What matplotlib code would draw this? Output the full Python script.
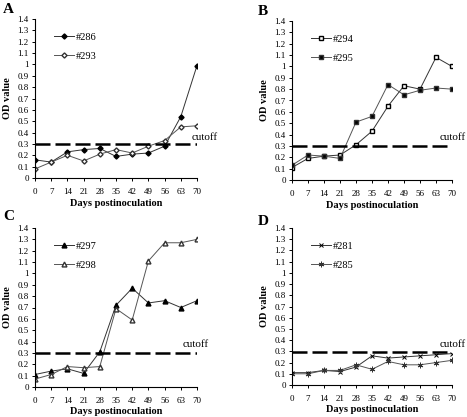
import matplotlib
matplotlib.use("Agg")
from matplotlib import pyplot as plt
import numpy as np

plt.rcParams['font.family'] = ['Liberation Serif', 'DejaVu Serif']

days = [0, 7, 14, 21, 28, 35, 42, 49, 56, 63, 70]
y_ticks = [0, 0.1, 0.2, 0.3, 0.4, 0.5, 0.6, 0.7, 0.8, 0.9, 1, 1.1, 1.2, 1.3, 1.4]
y_labels = ["0", "0.1", "0.2", "0.3", "0.4", "0.5", "0.6", "0.7", "0.8", "0.9",
            "1", "1.1", "1.2", "1.3", "1.4"]
cutoff = 0.295

# panel A
a286 = [0.16, 0.14, 0.23, 0.25, 0.26, 0.19, 0.21, 0.22, 0.28, 0.54, 0.99]
a293 = [0.08, 0.14, 0.20, 0.15, 0.21, 0.25, 0.22, 0.28, 0.33, 0.45, 0.46]
# panel B
b294 = [0.11, 0.19, 0.21, 0.22, 0.31, 0.43, 0.65, 0.83, 0.80, 1.08, 1.00]
b295 = [0.13, 0.22, 0.21, 0.19, 0.51, 0.56, 0.84, 0.75, 0.79, 0.81, 0.80]
# panel C
c297 = [0.11, 0.14, 0.16, 0.12, 0.31, 0.72, 0.87, 0.74, 0.76, 0.70, 0.76]
c298 = [0.07, 0.11, 0.18, 0.17, 0.18, 0.69, 0.59, 1.11, 1.27, 1.27, 1.30]
# panel D
d281 = [0.11, 0.11, 0.13, 0.12, 0.16, 0.26, 0.24, 0.25, 0.26, 0.27, 0.28]
d285 = [0.10, 0.10, 0.13, 0.13, 0.18, 0.14, 0.21, 0.18, 0.18, 0.20, 0.22]

W, H = 467, 417
fig = plt.figure(figsize=(W / 100, H / 100), dpi=100)


def make_axes(left, right, top, bottom):
    return fig.add_axes([left / W, 1 - bottom / H, (right - left) / W, (bottom - top) / H])


panels = [
    ("A", (35, 197, 19, 178), (3, 3), a286, a293, "#286", "#293",
     dict(marker="D", mfc="black", ms=2.6), dict(marker="D", mfc="white", ms=2.6), (67.5, 0.355)),
    ("B", (292, 452, 21, 180), (258, 5), b294, b295, "#294", "#295",
     dict(marker="s", mfc="white", ms=2.8), dict(marker="s", mfc="black", ms=3.2), (64.7, 0.37)),
    ("C", (35, 197, 228, 387), (3, 210), c297, c298, "#297", "#298",
     dict(marker="^", mfc="black", ms=3.5), dict(marker="^", mfc="white", ms=3.5), (64, 0.37)),
    ("D", (292, 452, 228, 385), (258, 215), d281, d285, "#281", "#285",
     dict(marker="x", mfc="black", ms=3, mew=0.7), dict(marker=(6, 2, 0), mfc="black", ms=4, mew=0.7), (64.8, 0.36)),
]

for letter, box, lpos, s1, s2, n1, n2, st1, st2, tpos in panels:
    ax = make_axes(*box)
    ax.plot(days, s1, color="#333333", lw=0.7, mec="black", label=n1, **st1)
    ax.plot(days, s2, color="#555555", lw=0.7, mec="#333333", label=n2, **st2)
    ax.plot([0, 70], [cutoff, cutoff], color="black", lw=1.8, dashes=(6, 2))
    ax.text(tpos[0], tpos[1], "cutoff", fontsize=8, ha="left", va="center")
    ax.set_xlim(0, 70)
    ax.set_ylim(0, 1.4)
    ax.set_xticks(days)
    ax.set_xticklabels([str(d) for d in days])
    ax.set_yticks(y_ticks)
    ax.set_yticklabels(y_labels)
    ax.tick_params(labelsize=6.5, length=2.5, width=0.7, pad=2)
    ax.tick_params(axis="x", pad=5)
    for sp in ["top", "right"]:
        ax.spines[sp].set_visible(False)
    for sp in ["left", "bottom"]:
        ax.spines[sp].set_linewidth(0.8)
    ax.set_xlabel("Days postinoculation", fontsize=7.5, fontweight="bold", labelpad=1.5)
    ax.set_ylabel("OD value", fontsize=7.5, fontweight="bold", labelpad=4)
    ax.legend(frameon=False, loc="upper left", bbox_to_anchor=(0.06, 0.975), fontsize=7.5,
              handlelength=1.9, numpoints=1, labelspacing=0.95, handletextpad=0.15)
    fig.text(lpos[0] / W, 1 - lpos[1] / H, letter, fontsize=11, fontweight="bold",
             ha="left", va="top")

plt.savefig("out.png", dpi=100)
